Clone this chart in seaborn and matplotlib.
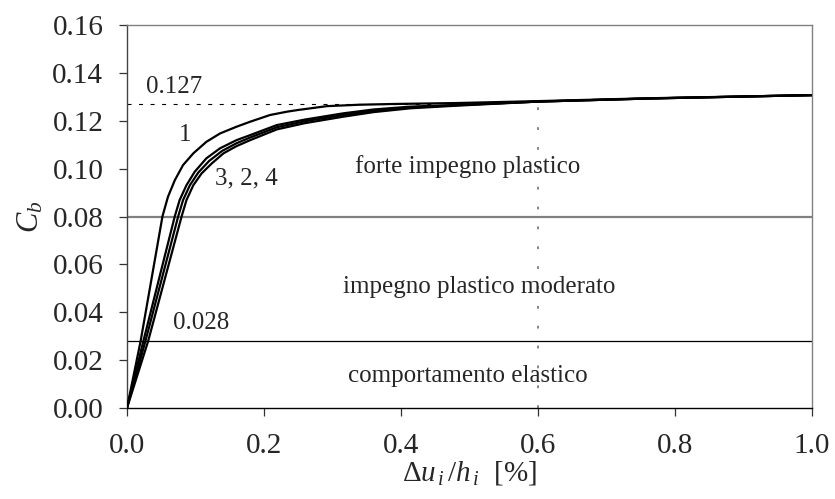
import matplotlib
matplotlib.use("Agg")
import matplotlib.pyplot as plt
import seaborn as sns
import pandas as pd

# Capacity curves: base shear coefficient vs. interstorey drift
c1_u = [0, 0.020, 0.052, 0.060, 0.070, 0.082, 0.097, 0.116, 0.136, 0.160, 0.180,
        0.209, 0.234, 0.250, 0.292, 0.340, 0.389, 0.482, 0.60, 0.763, 1.0]
c1_v = [0, 0.028, 0.0802, 0.0883, 0.0952, 0.1015, 0.1064, 0.1112, 0.1147, 0.1175, 0.1196,
        0.1224, 0.1238, 0.1245, 0.1261, 0.1267, 0.1270, 0.1274, 0.1282, 0.1294, 0.1307]

c2_u = [0, 0.027, 0.075, 0.082, 0.092, 0.104, 0.120, 0.139, 0.160, 0.180,
        0.219, 0.260, 0.316, 0.360, 0.414, 0.482, 0.60, 0.763, 1.0]
c2_v = [0, 0.028, 0.0802, 0.0869, 0.0931, 0.0983, 0.1032, 0.1074, 0.1106, 0.1130,
        0.1173, 0.1198, 0.1224, 0.1242, 0.1256, 0.1265, 0.1280, 0.1293, 0.1307]

c3_u = [0, 0.024, 0.070, 0.077, 0.087, 0.099, 0.116, 0.136, 0.160, 0.180,
        0.219, 0.260, 0.316, 0.360, 0.414, 0.482, 0.60, 0.763, 1.0]
c3_v = [0, 0.028, 0.0802, 0.0869, 0.0931, 0.0987, 0.1043, 0.1085, 0.1119, 0.1140,
        0.1182, 0.1205, 0.1231, 0.1247, 0.1259, 0.1266, 0.1280, 0.1293, 0.1307]

c4_u = [0, 0.031, 0.080, 0.087, 0.097, 0.109, 0.124, 0.141, 0.160, 0.180,
        0.219, 0.260, 0.316, 0.360, 0.414, 0.482, 0.60, 0.763, 1.0]
c4_v = [0, 0.028, 0.0802, 0.0869, 0.0931, 0.0980, 0.1022, 0.1064, 0.1094, 0.1119,
        0.1164, 0.1190, 0.1217, 0.1236, 0.1252, 0.1263, 0.1280, 0.1293, 0.1307]

curve_names = ["1", "2", "3", "4"]

# Thresholds between behaviour ranges
cb_elastic = 0.028
cb_moderate = 0.08
cb_plateau = 0.127
drift_ref = 0.6

x_ticks = [0.0, 0.2, 0.4, 0.6, 0.8, 1.0]
y_ticks = [0.00, 0.02, 0.04, 0.06, 0.08, 0.10, 0.12, 0.14, 0.16]

zone_labels = ["forte impegno plastico", "impegno plastico moderato", "comportamento elastico"]

frames = []
for name, u, v in zip(curve_names, [c1_u, c2_u, c3_u, c4_u], [c1_v, c2_v, c3_v, c4_v]):
    frames.append(pd.DataFrame({"drift": u, "Cb": v, "curve": name}))
df = pd.concat(frames, ignore_index=True)

sns.set_style("white")
plt.rcParams["font.family"] = ["Liberation Serif", "DejaVu Serif"]
plt.rcParams["mathtext.fontset"] = "custom"
plt.rcParams["mathtext.rm"] = "Liberation Serif"
plt.rcParams["mathtext.it"] = "Liberation Serif:italic"
plt.rcParams["lines.scale_dashes"] = False

fig = plt.figure(figsize=(8.35, 4.99), dpi=100)
ax = fig.add_axes([0.152, 0.182, 0.820, 0.768])

# Reference lines
ax.axhline(cb_moderate, color="#808080", lw=1.6, zorder=1)
ax.axhline(cb_elastic, color="black", lw=0.9, zorder=1)
ax.plot([0, 0.45], [cb_plateau, cb_plateau], color="black", lw=0.8,
        linestyle=(0, (2.9, 5.4)), zorder=1)
ax.plot([drift_ref, drift_ref], [0, 0.128], color="#707070", lw=1.2,
        linestyle=(0, (2.0, 12.3)), zorder=1)

sns.lineplot(data=df, x="drift", y="Cb", units="curve", estimator=None,
             sort=False, color="black", lw=1.6, ax=ax, zorder=3)

ax.set_xlim(0, 1.0)
ax.set_ylim(0, 0.16)
ax.set_xticks(x_ticks)
ax.set_xticklabels([f"{t:.1f}" for t in x_ticks])
ax.set_yticks(y_ticks)
ax.set_yticklabels([f"{t:.2f}" for t in y_ticks])
ax.tick_params(axis="both", direction="out", length=6, width=0.9,
               color="#333333", labelsize=21, pad=11, left=True, bottom=True)
ax.tick_params(axis="x", pad=12)

for side in ["top", "right"]:
    ax.spines[side].set_color("#808080")
    ax.spines[side].set_linewidth(1.0)
ax.spines["left"].set_color("#444444")
ax.spines["bottom"].set_color("black")
ax.spines["left"].set_linewidth(1.0)
ax.spines["bottom"].set_linewidth(1.0)

ax.set_xlabel(r"$\Delta u_{\,i}\,/h_{\,i}$  [%]", fontsize=21, labelpad=0)
ax.set_ylabel(r"$C_b$", fontsize=22, labelpad=5)

# Annotations
ax.text(0.028, 0.134, "0.127", fontsize=18, ha="left", va="center")
ax.text(0.067, 0.0356, "0.028", fontsize=18, ha="left", va="center")
ax.text(0.085, 0.114, "1", fontsize=18, ha="center", va="center")
ax.text(0.129, 0.0959, "3, 2, 4", fontsize=18, ha="left", va="center")
ax.text(0.498, 0.1007, zone_labels[0], fontsize=18, ha="center", va="center")
ax.text(0.515, 0.0505, zone_labels[1], fontsize=18, ha="center", va="center")
ax.text(0.498, 0.0134, zone_labels[2], fontsize=18, ha="center", va="center")

fig.savefig("out.png", dpi=100)
